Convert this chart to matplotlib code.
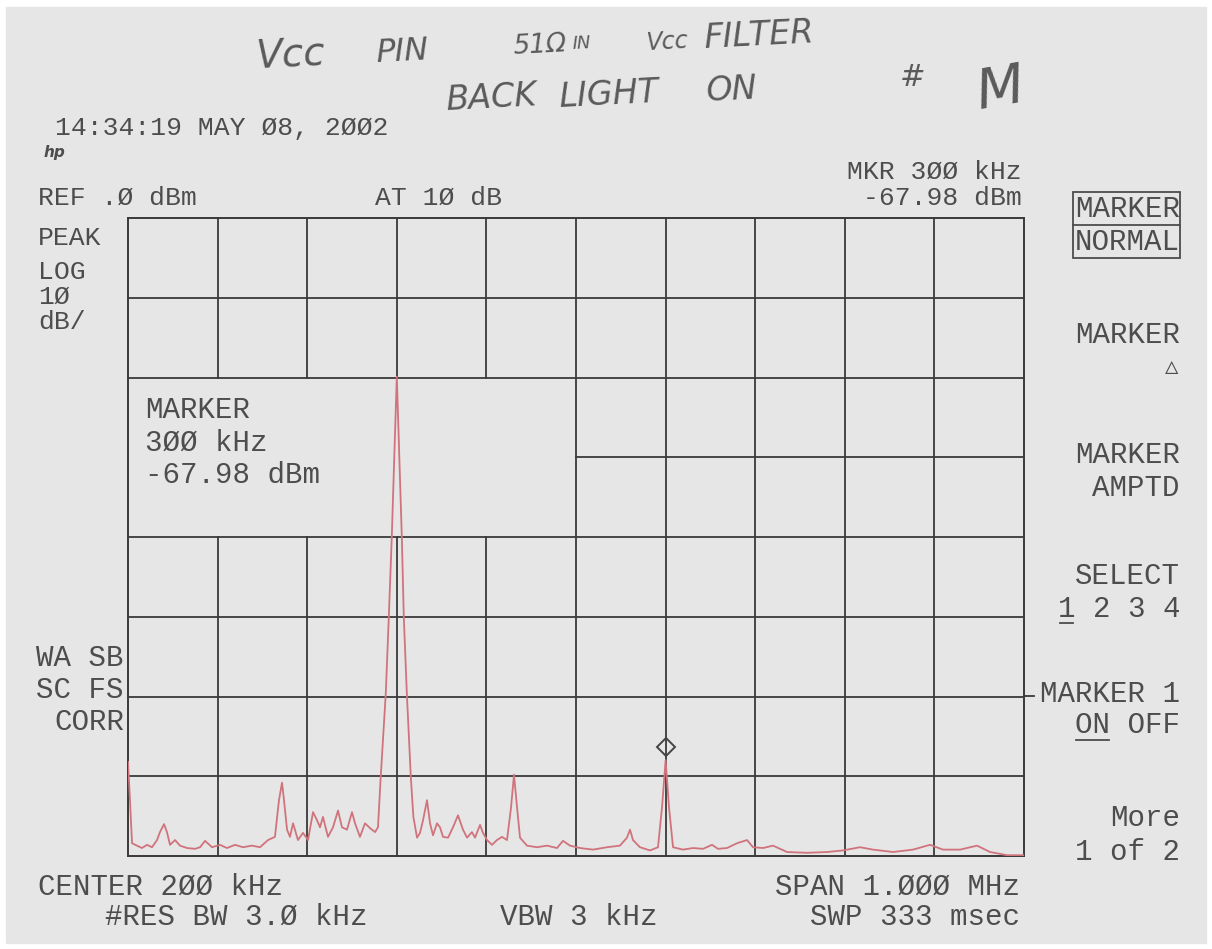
import numpy as np
import matplotlib.pyplot as plt
from matplotlib.lines import Line2D
from matplotlib.patches import Rectangle
import matplotlib.transforms as mtransforms

# trace: frequency (kHz) and level (dBm)
freq_khz = [-300, -297.8, -295.5, -290, -284.4, -278.8, -273.2, -267.6, -264.3, -259.8,
            -256.5, -253.1, -247.5, -242, -234.1, -225.2, -219.6, -214, -206.2, -197.3,
            -189.5, -180.6, -171.6, -161.6, -152.7, -143.7, -136, -131.5, -128.1, -125.9,
            -122.5, -119.2, -115.8, -110.3, -104.7, -99.1, -93.5, -89.1, -85.7, -82.4,
            -76.8, -71.2, -65.6, -61.2, -55.6, -50, -46.6, -41.1, -35.5, -29.9,
            -24.3, -21, -17.9, -12.3, -8.9, -5.6, 0, 5.6, 7.8, 11.2,
            15.6, 18.5, 22.6, 25.9, 29.3, 33.7, 37.1, 40.4, 44.9, 48.2,
            51.6, 57.2, 62.7, 68.3, 73.9, 78.4, 83.9, 87.3, 92.9, 96.2,
            100.7, 106.3, 111.8, 117.4, 123, 127.5, 130.8, 134.2, 137.5, 145.3,
            156.5, 167.6, 178.8, 185.5, 193.3, 204.5, 219, 234.6, 249.1, 256.9,
            260.3, 263.6, 271.4, 282.6, 291.5, 296, 300, 303.8, 308.3, 319.4,
            330.6, 341.8, 351.8, 358.5, 368.5, 379.7, 390.9, 397.6, 408.7, 419.9,
            435.5, 457.8, 480.2, 498, 517, 531.5, 553.8, 576.1, 595.1, 609.6,
            628.6, 647.6, 662.1, 681.1, 700]
level_dbm = [-68.2, -73.0, -78.4, -78.7, -79.0, -78.6, -78.9, -78.0, -77.0, -76.0,
             -77.0, -78.6, -78.0, -78.7, -79.0, -79.1, -78.9, -78.1, -78.9, -78.6,
             -79.0, -78.6, -78.9, -78.7, -78.9, -78.0, -77.6, -73.0, -70.8, -73.0,
             -76.7, -77.6, -75.9, -78.0, -77.1, -78.0, -74.5, -75.5, -76.4, -75.1,
             -77.6, -76.4, -74.3, -76.4, -76.7, -74.5, -75.9, -77.6, -75.9, -76.5,
             -77.0, -76.4, -70.0, -59.6, -50.0, -40.0, -19.9, -40.0, -50.0, -59.6,
             -70.0, -75.1, -77.7, -77.1, -75.5, -73.0, -75.9, -77.4, -75.9, -76.4,
             -77.6, -77.7, -76.4, -74.9, -76.7, -77.7, -77.0, -77.7, -76.1, -77.1,
             -78.0, -78.6, -78.0, -77.6, -78.0, -73.9, -69.8, -73.9, -77.7, -78.7,
             -78.9, -78.7, -79.0, -78.1, -78.7, -79.0, -79.2, -78.9, -78.7, -77.7,
             -76.7, -78.0, -78.9, -79.3, -78.9, -73.9, -67.98, -73.9, -78.9, -79.2,
             -79.0, -79.1, -78.6, -79.1, -79.0, -78.4, -78.0, -78.9, -79.0, -78.7,
             -79.5, -79.6, -79.5, -79.3, -78.9, -79.2, -79.5, -79.2, -78.6, -79.2,
             -79.2, -78.7, -79.5, -79.9, -79.9]

marker_khz = 300
marker_dbm = -67.98

f_start, f_stop = -300, 700
ref_dbm, db_per_div = 0, 10
n_x, n_y = 10, 8

W, H = 1212, 949
BG = '#e6e6e6'
INK = '#4d4d4d'
GRID = '#3a3a3a'
TRACE = '#d0737c'
MONO = ['Liberation Mono', 'DejaVu Sans Mono', 'DejaVu Sans']
FS = 21      # main screen font
FS_TOP = 19  # header lines are a little smaller


def cw(size):
    # width of one monospace character in pixels
    return 0.6 * size * 100 / 72


fig = plt.figure(figsize=(W / 100, H / 100), dpi=100)
fig.patch.set_facecolor('white')
fig.patches.append(Rectangle((6 / W, 6 / H), 1 - 12 / W, 1 - 13 / H,
                             transform=fig.transFigure, color=BG, zorder=-10))

ax = fig.add_axes([128 / W, 1 - 856 / H, 896 / W, 638 / H])
ax.set_facecolor(BG)
ax.set_xlim(f_start, f_stop)
y_bot = ref_dbm - n_y * db_per_div
ax.set_ylim(y_bot, ref_dbm)
ax.set_xticks([])
ax.set_yticks([])
for s in ax.spines.values():
    s.set_color(GRID)
    s.set_linewidth(1.4)

# graticule, with the marker readout box cleared
dx = (f_stop - f_start) / n_x
box_x1 = f_start + 5 * dx
box_y0, box_y1 = ref_dbm - 4 * db_per_div, ref_dbm - 2 * db_per_div
for i in range(1, n_x):
    x = f_start + i * dx
    if x < box_x1:
        ax.plot([x, x], [y_bot, box_y0], color=GRID, lw=1.3)
        ax.plot([x, x], [box_y1, ref_dbm], color=GRID, lw=1.3)
    else:
        ax.plot([x, x], [y_bot, ref_dbm], color=GRID, lw=1.3)
for j in range(1, n_y):
    y = ref_dbm - j * db_per_div
    if box_y0 < y < box_y1:
        ax.plot([box_x1, f_stop], [y, y], color=GRID, lw=1.3)
    else:
        ax.plot([f_start, f_stop], [y, y], color=GRID, lw=1.3)

ax.plot(freq_khz, level_dbm, color=TRACE, lw=1.3, zorder=3)

up = mtransforms.offset_copy(ax.transData, fig=fig, x=0, y=13, units='dots')
ax.plot([marker_khz], [marker_dbm], marker='D', ms=9, mfc='none', mec='#444444',
        mew=1.4, transform=up, zorder=4)


def put(x, y, s, ha='left', size=FS, **kw):
    fig.text(x / W, 1 - y / H, s, ha=ha, va='center', fontsize=size,
             family=MONO, color=INK, **kw)


def hline(x0, x1, y, lw=1.3, color=INK):
    fig.lines.append(Line2D([x0 / W, x1 / W], [1 - y / H, 1 - y / H],
                            transform=fig.transFigure, color=color, lw=lw))


# handwritten notes
hand = dict(family='DejaVu Sans', style='italic', color='#5a5a5a', va='center')
for x, y, s, sz in [(255, 55, 'Vcc', 28), (375, 52, 'PIN', 23), (512, 46, '51Ω', 19),
                    (572, 44, 'IN', 13), (645, 42, 'Vcc', 17), (703, 36, 'FILTER', 24),
                    (445, 98, 'BACK', 24), (558, 95, 'LIGHT', 24), (705, 90, 'ON', 24)]:
    fig.text(x / W, 1 - y / H, s, fontsize=sz, rotation=3, **hand)
fig.text(900 / W, 1 - 78 / H, '#', fontsize=22, **hand)
fig.text(972 / W, 1 - 90 / H, 'M', fontsize=40, rotation=10, **hand)

# screen annotations
put(55, 128, '14:34:19 MAY Ø8, 2ØØ2', size=FS_TOP)
fig.text(44 / W, 1 - 152 / H, 'hp', fontsize=11, style='italic', color=INK,
         va='center', family='DejaVu Sans', fontweight='bold')
put(38, 198, 'REF .Ø dBm', size=FS_TOP)
put(375, 198, 'AT 1Ø dB', size=FS_TOP)
put(1022, 172, 'MKR 3ØØ kHz', ha='right', size=FS_TOP)
put(1022, 198, '-67.98 dBm', ha='right', size=FS_TOP)

for y, s in [(238, 'PEAK'), (272, 'LOG'), (297, '1Ø'), (322, 'dB/')]:
    put(38, y, s, size=FS_TOP)

for y, s in [(410, 'MARKER'), (443, '3ØØ kHz'), (475, '-67.98 dBm')]:
    put(145, y, s)

for y, s in [(658, 'WA SB'), (690, 'SC FS'), (722, 'CORR')]:
    put(124, y, s, ha='right')

# softkey column
RX = 1180
C = cw(FS)
fig.patches.append(Rectangle((1073 / W, 1 - 258 / H), 107 / W, 66 / H, fill=False,
                             ec=INK, lw=1.3, transform=fig.transFigure))
hline(1073, 1180, 225)
put(RX, 209, 'MARKER', ha='right')
put(RX, 242, 'NORMAL', ha='right')
put(RX, 335, 'MARKER', ha='right')
put(RX - 2, 368, '△', ha='right', size=16)
put(RX, 455, 'MARKER', ha='right')
put(RX, 488, 'AMPTD', ha='right')
put(RX, 576, 'SELECT', ha='right')
put(RX, 609, '1 2 3 4', ha='right')
hline(RX - 7 * C + 2, RX - 6 * C - 2, 623)
put(RX, 694, 'MARKER 1', ha='right')
put(RX, 725, 'ON OFF', ha='right')
hline(RX - 6 * C + 1, RX - 4 * C - 1, 740)
hline(1024, 1034, 696, color=GRID)
put(RX, 818, 'More', ha='right')
put(RX, 852, '1 of 2', ha='right')

# bottom annotations
put(38, 887, 'CENTER 2ØØ kHz')
put(105, 917, '#RES BW 3.Ø kHz')
put(500, 917, 'VBW 3 kHz')
put(1020, 887, 'SPAN 1.ØØØ MHz', ha='right')
put(1020, 917, 'SWP 333 msec', ha='right')

fig.savefig('out.png', dpi=100, facecolor=fig.get_facecolor())
